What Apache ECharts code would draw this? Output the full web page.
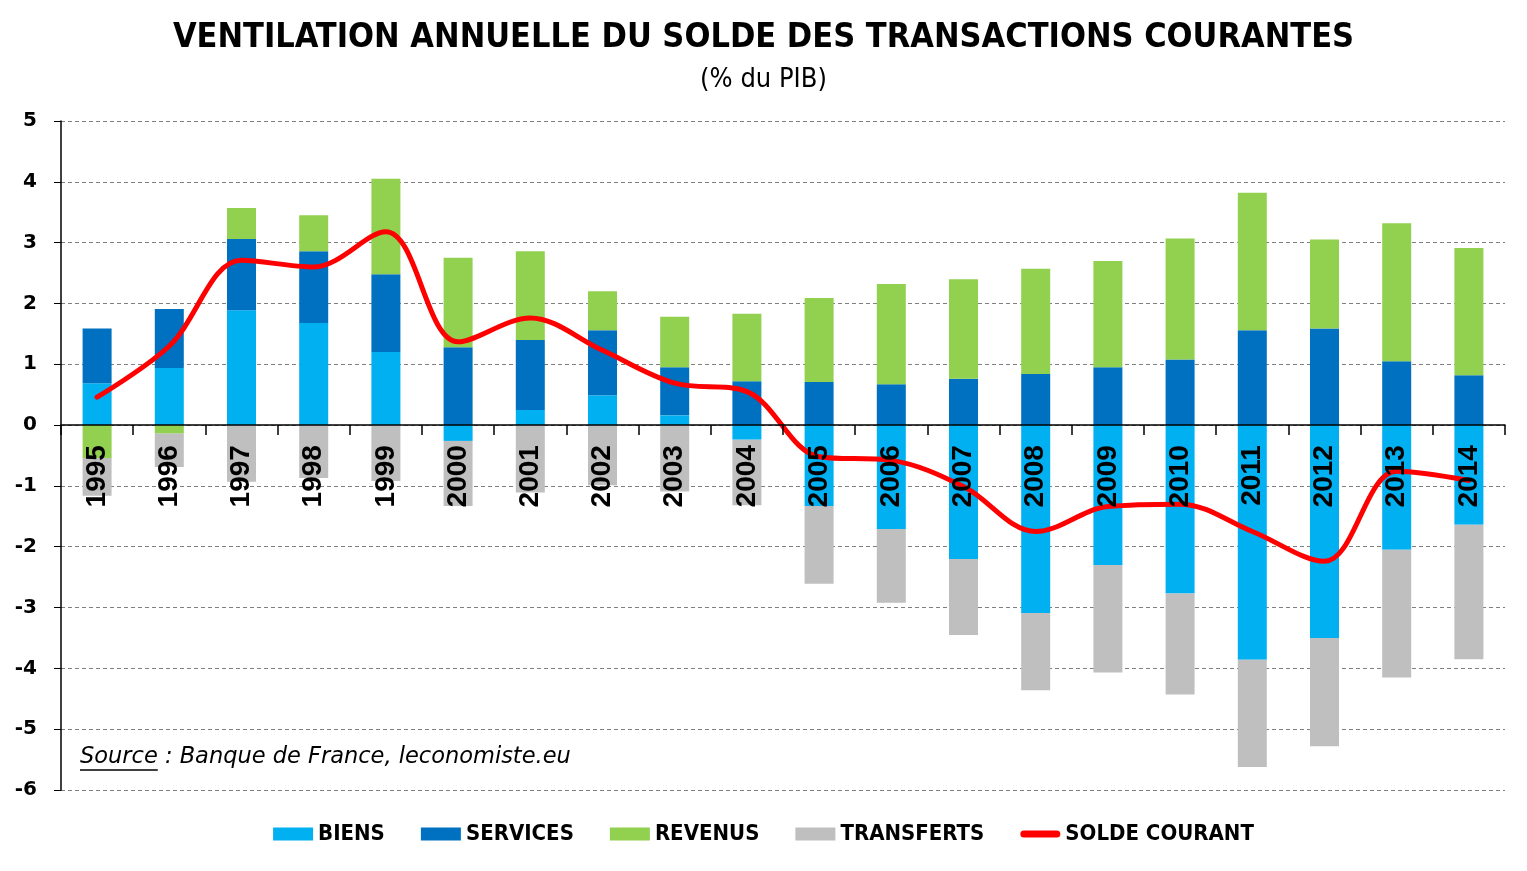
<!DOCTYPE html>
<html>
<head>
<meta charset="utf-8">
<script src="https://cdn.jsdelivr.net/npm/echarts@6/dist/echarts.min.js"></script>
<style>
html,body{margin:0;padding:0;background:#fff;}
#chart{width:1527px;height:871px;}
</style>
</head>
<body>
<div id="chart"></div>
<script>
const years = ['1995','1996','1997','1998','1999','2000','2001','2002','2003','2004','2005','2006','2007','2008','2009','2010','2011','2012','2013','2014'];
const biens = [0.69,0.94,1.89,1.68,1.20,-0.26,0.25,0.49,0.16,-0.24,-1.33,-1.71,-2.20,-3.09,-2.30,-2.77,-3.86,-3.50,-2.05,-1.64];
const services = [0.90,0.97,1.17,1.18,1.28,1.28,1.15,1.07,0.79,0.72,0.71,0.67,0.76,0.84,0.95,1.08,1.56,1.59,1.05,0.82];
const revenus = [-0.54,-0.14,0.51,0.59,1.57,1.47,1.46,0.64,0.83,1.11,1.38,1.65,1.64,1.73,1.75,1.99,2.26,1.46,2.27,2.09];
const transferts = [-0.62,-0.55,-0.93,-0.87,-0.92,-1.07,-1.11,-0.99,-1.09,-1.08,-1.28,-1.21,-1.25,-1.27,-1.77,-1.66,-1.76,-1.78,-2.10,-2.21];
const solde = [0.46,1.30,2.71,2.60,3.18,1.37,1.76,1.23,0.69,0.55,-0.52,-0.58,-1.01,-1.75,-1.34,-1.30,-1.75,-2.24,-0.76,-0.91];
const seriesNames = ['BIENS','SERVICES','REVENUS','TRANSFERTS','SOLDE COURANT'];
const yTicks = {min:-6, max:5, interval:1};

const W = 1527, H = 871;
const gridL = 61, gridR = 22, gridT = 121, gridB = 81;
const plotH = H - gridT - gridB;
// move the category axis (line, ticks, labels) up to the zero line
const zeroOffset = -plotH * (0 - yTicks.min) / (yTicks.max - yTicks.min);

const chart = echarts.init(document.getElementById('chart'), null, {renderer:'canvas', width:W, height:H});

const srcFont = 'italic 22.5px "DejaVu Sans"';
const cv = document.createElement('canvas').getContext('2d');
cv.font = srcFont;
const srcW = cv.measureText('Source').width;

function bar(name, data, color){
  return {name, type:'bar', stack:'total', data, barWidth:29,
    itemStyle:{color}, emphasis:{disabled:true}};
}

chart.setOption({
  animation:false,
  title:[
    {text:'VENTILATION ANNUELLE DU SOLDE DES TRANSACTIONS COURANTES', left:'center', top:16,
     textStyle:{fontFamily:'DejaVu Sans Condensed', fontWeight:'bold', fontSize:34, color:'#000'}},
    {text:'(% du PIB)', left:'center', top:61,
     textStyle:{fontFamily:'DejaVu Sans Condensed', fontWeight:'normal', fontSize:27, color:'#000'}}
  ],
  grid:{left:gridL, right:gridR, top:gridT, bottom:gridB, containLabel:false},
  legend:{
    top:818, left:'center', itemWidth:40, itemHeight:13, itemGap:36,
    textStyle:{fontFamily:'DejaVu Sans Condensed', fontWeight:'bold', fontSize:22, color:'#000'},
    data:[
      {name:'BIENS', icon:'rect'},
      {name:'SERVICES', icon:'rect'},
      {name:'REVENUS', icon:'rect'},
      {name:'TRANSFERTS', icon:'rect'},
      {name:'SOLDE COURANT', icon:'path://M3.5,0 L36.5,0 A3.5,3.5 0 0 1 36.5,7 L3.5,7 A3.5,3.5 0 0 1 3.5,0 Z', itemStyle:{color:'#FF0000'}}
    ]
  },
  xAxis:{
    type:'category', data:years, position:'bottom', offset:zeroOffset, z:20,
    axisLine:{onZero:false, lineStyle:{color:'#000', width:1.5}},
    axisTick:{show:true, length:10, inside:false, lineStyle:{color:'#000', width:1.5}},
    axisLabel:{rotate:90, interval:0, margin:20, hideOverlap:false, fontFamily:'Liberation Sans', fontWeight:'bold', fontSize:28, color:'#000'},
    splitLine:{show:false}
  },
  yAxis:{
    type:'value', min:yTicks.min, max:yTicks.max, interval:yTicks.interval,
    axisLine:{show:true, lineStyle:{color:'#000', width:1.5}},
    axisTick:{show:true, length:7, lineStyle:{color:'#000'}},
    axisLabel:{margin:24, fontFamily:'DejaVu Sans', fontWeight:'bold', fontSize:20, color:'#000'},
    splitLine:{show:true, lineStyle:{color:'#7f7f7f', type:[4,3], width:1}}
  },
  series:[
    bar(seriesNames[0], biens, '#00B0F0'),
    bar(seriesNames[1], services, '#0070C0'),
    bar(seriesNames[2], revenus, '#92D050'),
    bar(seriesNames[3], transferts, '#BFBFBF'),
    {name:seriesNames[4], type:'line', data:solde, smooth:0.35, symbol:'none', z:5,
     lineStyle:{color:'#FF0000', width:5, cap:'round', join:'round'}, itemStyle:{color:'#FF0000'},
     emphasis:{disabled:true}}
  ],
  graphic:[
    {type:'text', left:80, top:746, z:10,
     style:{text:'Source : Banque de France, leconomiste.eu', font:srcFont, fill:'#000'}},
    {type:'line', z:10, shape:{x1:80, y1:770, x2:80+srcW, y2:770}, style:{stroke:'#000', lineWidth:1.5}}
  ]
});
</script>
</body>
</html>
